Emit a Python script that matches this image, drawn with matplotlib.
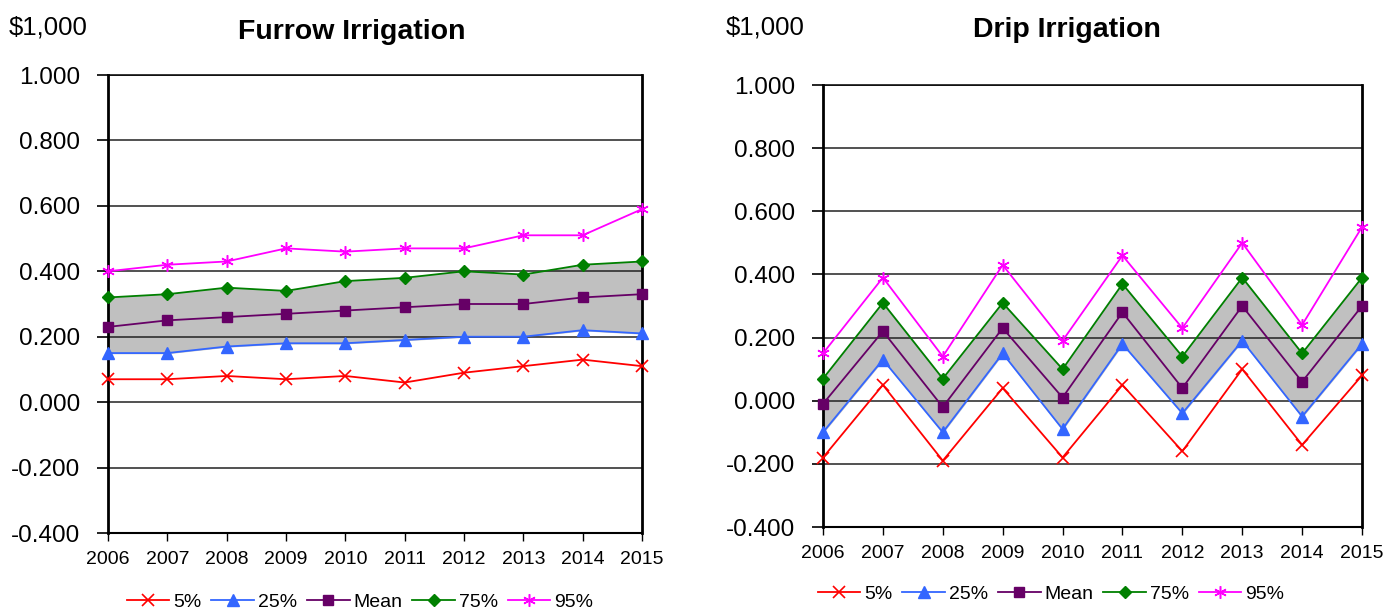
import numpy as np
import matplotlib.pyplot as plt

plt.rcParams['font.family'] = ['Liberation Sans', 'DejaVu Sans']

YEARS = [2006, 2007, 2008, 2009, 2010, 2011, 2012, 2013, 2014, 2015]
LABELS = ['5%', '25%', 'Mean', '75%', '95%']

# Furrow irrigation ($1,000)
furrow_p5   = [0.07, 0.07, 0.08, 0.07, 0.08, 0.06, 0.09, 0.11, 0.13, 0.11]
furrow_p25  = [0.15, 0.15, 0.17, 0.18, 0.18, 0.19, 0.20, 0.20, 0.22, 0.21]
furrow_mean = [0.23, 0.25, 0.26, 0.27, 0.28, 0.29, 0.30, 0.30, 0.32, 0.33]
furrow_p75  = [0.32, 0.33, 0.35, 0.34, 0.37, 0.38, 0.40, 0.39, 0.42, 0.43]
furrow_p95  = [0.40, 0.42, 0.43, 0.47, 0.46, 0.47, 0.47, 0.51, 0.51, 0.59]

# Drip irrigation ($1,000)
drip_p5   = [-0.18, 0.05, -0.19, 0.04, -0.18, 0.05, -0.16, 0.10, -0.14, 0.08]
drip_p25  = [-0.10, 0.13, -0.10, 0.15, -0.09, 0.18, -0.04, 0.19, -0.05, 0.18]
drip_mean = [-0.01, 0.22, -0.02, 0.23, 0.01, 0.28, 0.04, 0.30, 0.06, 0.30]
drip_p75  = [0.07, 0.31, 0.07, 0.31, 0.10, 0.37, 0.14, 0.39, 0.15, 0.39]
drip_p95  = [0.15, 0.39, 0.14, 0.43, 0.19, 0.46, 0.23, 0.50, 0.24, 0.55]

STYLES = [
    dict(color='#FF0000', marker='x', ms=8, mew=1.2),
    dict(color='#3366FF', marker='^', ms=8),
    dict(color='#660066', marker='s', ms=7),
    dict(color='#008000', marker='D', ms=6),
    dict(color='#FF00FF', marker=(6, 2, 0), ms=9, mew=1.1),
]

W, H = 1395, 610
fig = plt.figure(figsize=(W / 100, H / 100), dpi=100)


def panel(box, title, title_pos, unit_pos, series, legend_pos):
    l, t, r, b = box
    ax = fig.add_axes([l / W, 1 - b / H, (r - l) / W, (b - t) / H])
    x = np.arange(len(YEARS))
    ax.fill_between(x, series[1], series[3], color='#C0C0C0', zorder=1)
    for vals, lab, st in zip(series, LABELS, STYLES):
        ax.plot(x, vals, label=lab, lw=1.3, zorder=3, clip_on=False, **st)
    ax.set_xlim(0, len(YEARS) - 1)
    ax.set_ylim(-0.4, 1.0)
    yt = np.arange(-0.4, 1.01, 0.2)
    ax.set_yticks(yt)
    ax.set_yticklabels([f'{v:.3f}' for v in yt])
    ax.set_xticks(x)
    ax.set_xticklabels([str(y) for y in YEARS])
    ax.tick_params(axis='y', labelsize=17.5, length=8, width=1.2, pad=12)
    ax.tick_params(axis='x', labelsize=14, length=6, width=1.0, pad=7)
    ax.grid(axis='y', color='#222222', lw=1.1, zorder=0)
    for s in ['left', 'right']:
        ax.spines[s].set_linewidth(2)
    ax.spines['top'].set_linewidth(1.1)
    ax.spines['bottom'].set_linewidth(1.5)
    fig.text(title_pos[0] / W, 1 - title_pos[1] / H, title, fontsize=20.5,
             fontweight='bold', ha='center', va='center')
    fig.text(unit_pos[0] / W, 1 - unit_pos[1] / H, '$1,000', fontsize=18.5,
             ha='left', va='center')
    fig.legend(*ax.get_legend_handles_labels(), loc='center',
               bbox_to_anchor=(legend_pos[0] / W, 1 - legend_pos[1] / H),
               ncol=5, frameon=False, fontsize=14, handlelength=2.2,
               columnspacing=0.5, handletextpad=0.2)
    return ax


panel((108, 75, 642, 533), 'Furrow Irrigation', (352, 32), (9, 27),
      [furrow_p5, furrow_p25, furrow_mean, furrow_p75, furrow_p95], (360, 602))
panel((823, 85, 1362, 527), 'Drip Irrigation', (1067, 30), (726, 27),
      [drip_p5, drip_p25, drip_mean, drip_p75, drip_p95], (1051, 594))

fig.savefig('out.png', dpi=100)
